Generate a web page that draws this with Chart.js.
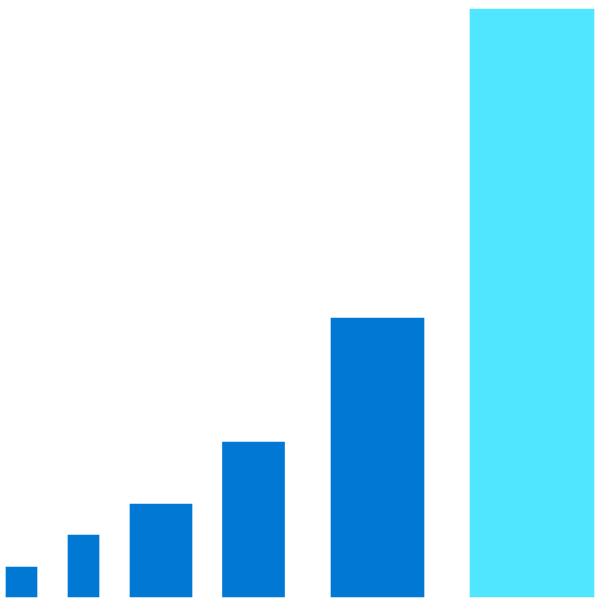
<!DOCTYPE html>
<html>
<head>
<meta charset="utf-8">
<script src="https://cdn.jsdelivr.net/npm/chart.js@4.4.1/dist/chart.umd.min.js"></script>
<style>
  html, body { margin: 0; padding: 0; background: #fff; }
  #wrap { width: 600px; height: 600px; }
</style>
</head>
<body>
<div id="wrap"><canvas id="chart"></canvas></div>
<script>
// Bar extents along x (chart units) and heights
var barStart = [6, 68, 130, 222.5, 331, 470];
var barEnd = [37, 99, 192, 284.5, 424, 594];
var barHeight = [30, 62, 93, 155, 279, 588];

var BLUE = '#0078D4';
var CYAN = '#50E6FF';
var barColors = [BLUE, BLUE, BLUE, BLUE, BLUE, CYAN];

var datasets = barStart.map(function (s, i) {
  return {
    data: [{ x: (s + barEnd[i]) / 2, y: barHeight[i] }],
    backgroundColor: barColors[i],
    borderWidth: 0,
    barThickness: barEnd[i] - s, // x scale is 1 unit per px
    grouped: false
  };
});

new Chart(document.getElementById('chart'), {
  type: 'bar',
  data: { datasets: datasets },
  options: {
    responsive: true,
    maintainAspectRatio: false,
    animation: false,
    layout: { padding: 0 },
    plugins: { legend: { display: false }, tooltip: { enabled: false } },
    scales: {
      x: { type: 'linear', min: 0, max: 600, offset: false, display: false },
      y: { min: -3, max: 597, display: false }
    }
  }
});
</script>
</body>
</html>
